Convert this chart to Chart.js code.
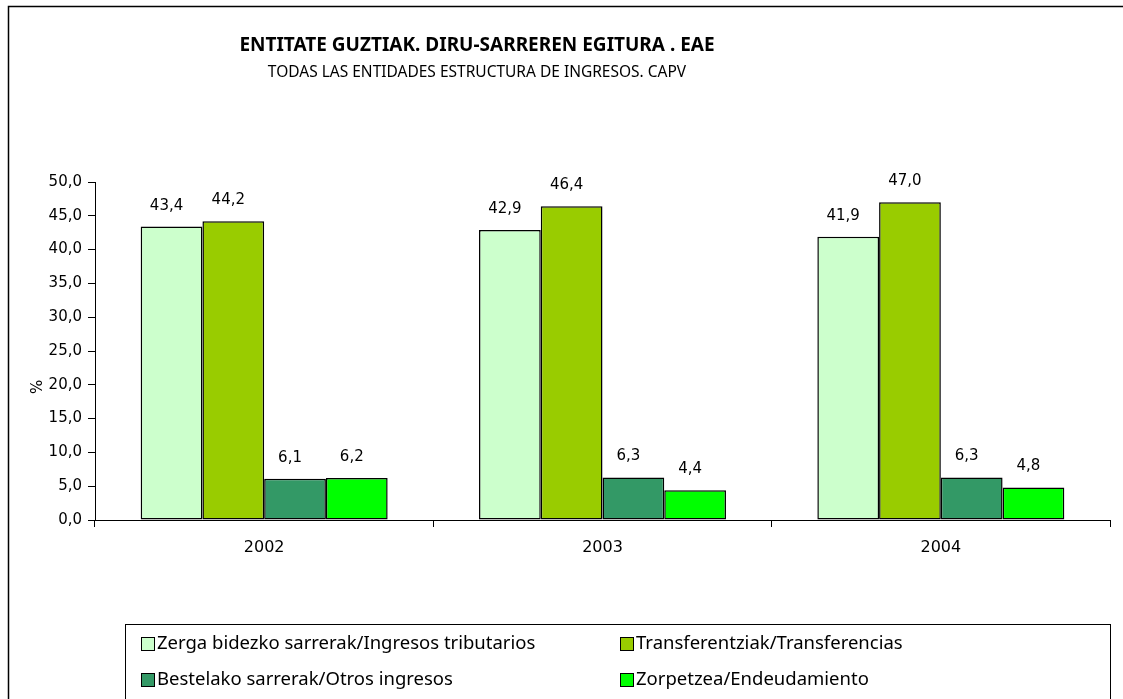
<!DOCTYPE html>
<html>
<head>
<meta charset="utf-8">
<script src="https://cdn.jsdelivr.net/npm/chart.js@4.4.0/dist/chart.umd.min.js"></script>
<style>
  html, body { margin: 0; padding: 0; background: #fff; }
  #wrap { width: 1123px; height: 699px; position: relative; }
</style>
</head>
<body>
<div id="wrap"><canvas id="c"></canvas></div>
<script>
const years = ['2002', '2003', '2004'];
const tributarios = [43.4, 42.9, 41.9];
const transferencias = [44.2, 46.4, 47.0];
const otros = [6.1, 6.3, 6.3];
const endeudamiento = [6.2, 4.4, 4.8];
const seriesLabels = [
  'Zerga bidezko sarrerak/Ingresos tributarios',
  'Transferentziak/Transferencias',
  'Bestelako sarrerak/Otros ingresos',
  'Zorpetzea/Endeudamiento'
];
const colors = ['#CCFFCC', '#99CC00', '#339966', '#00FF00'];
const title1 = 'ENTITATE GUZTIAK. DIRU-SARREREN EGITURA . EAE';
const title2 = 'TODAS LAS ENTIDADES ESTRUCTURA DE INGRESOS. CAPV';

const fmt = v => v.toFixed(1).replace('.', ',');
const tickFont = '"DejaVu Sans", Verdana, sans-serif';
const textFont = '"Noto Sans", "Open Sans", sans-serif';

// marco exterior, títulos, etiquetas y leyenda
const decor = {
  id: 'decor',
  beforeDraw(chart) {
    const ctx = chart.ctx;
    ctx.save();
    ctx.fillStyle = '#fff';
    ctx.fillRect(0, 0, chart.width, chart.height);
    ctx.strokeStyle = '#000';
    ctx.lineWidth = 1.5;
    ctx.strokeRect(8.5, 6.5, chart.width + 20, chart.height + 20);
    ctx.restore();
  },
  afterDraw(chart) {
    const ctx = chart.ctx;
    ctx.save();
    ctx.fillStyle = '#000';
    ctx.textAlign = 'center';
    ctx.textBaseline = 'middle';
    ctx.font = 'bold 19px ' + textFont;
    ctx.fillText(title1, 477, 46);
    ctx.font = '15.5px ' + textFont;
    ctx.fillText(title2, 477, 73);

    // etiquetas de valores
    ctx.font = '15px ' + tickFont;
    chart.data.datasets.forEach((ds, i) => {
      chart.getDatasetMeta(i).data.forEach((bar, j) => {
        ctx.fillText(fmt(ds.data[j]), bar.x - 5, bar.y - 21);
      });
    });

    // "%" eje Y
    ctx.save();
    ctx.translate(34, 387);
    ctx.rotate(Math.PI / 2);
    ctx.font = '15px ' + tickFont;
    ctx.fillText('%', 0, 0);
    ctx.restore();

    // leyenda
    ctx.strokeStyle = '#000';
    ctx.lineWidth = 1;
    ctx.strokeRect(125.5, 624.5, 985, 90);
    const pos = [[141, 644], [620, 644], [141, 680], [620, 680]];
    ctx.textAlign = 'left';
    ctx.font = '18.5px ' + textFont;
    chart.data.datasets.forEach((ds, i) => {
      const [x, y] = pos[i];
      ctx.fillStyle = ds.backgroundColor;
      ctx.fillRect(x, y - 7, 13, 13);
      ctx.strokeStyle = '#000';
      ctx.strokeRect(x + 0.5, y - 6.5, 13, 13);
      ctx.fillStyle = '#000';
      ctx.fillText(ds.label, x + 16, y);
    });
    ctx.restore();
  }
};

new Chart(document.getElementById('c'), {
  type: 'bar',
  data: {
    labels: years,
    datasets: [
      { label: seriesLabels[0], data: tributarios, backgroundColor: colors[0] },
      { label: seriesLabels[1], data: transferencias, backgroundColor: colors[1] },
      { label: seriesLabels[2], data: otros, backgroundColor: colors[2] },
      { label: seriesLabels[3], data: endeudamiento, backgroundColor: colors[3] }
    ].map(d => ({ ...d, borderColor: '#000', borderWidth: 1.5, borderSkipped: false, barPercentage: 1, categoryPercentage: 0.73 }))
  },
  options: {
    responsive: true,
    maintainAspectRatio: false,
    animation: false,
    layout: { padding: { top: 182, right: 13, bottom: 99, left: 0 } },
    plugins: { legend: { display: false }, title: { display: false }, tooltip: { enabled: false } },
    scales: {
      x: {
        afterFit: s => { s.height = 80; },
        grid: { offset: true, drawOnChartArea: false, tickLength: 7, color: '#000' },
        border: { color: '#000', width: 1 },
        ticks: { color: '#000', padding: 11, font: { family: tickFont, size: 16 } }
      },
      y: {
        min: 0, max: 50,
        afterFit: s => { s.width = 95; },
        grid: { drawOnChartArea: false, tickLength: 7, color: '#000' },
        border: { color: '#000', width: 1 },
        ticks: { stepSize: 5, color: '#000', padding: 6, font: { family: tickFont, size: 15 }, callback: v => fmt(v) }
      }
    }
  },
  plugins: [decor]
});
</script>
</body>
</html>
